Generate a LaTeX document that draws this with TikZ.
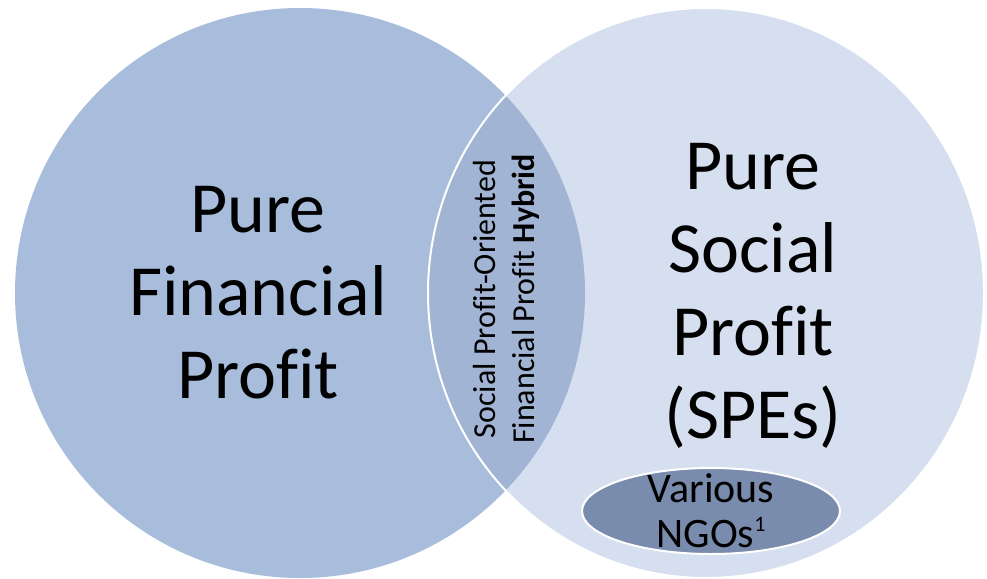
\documentclass[tikz,border=0pt]{standalone}
\usepackage{fontspec}
\setmainfont{Carlito}[Ligatures={NoCommon}]
\definecolor{leftcol}{HTML}{A8BCDB}
\definecolor{rightcol}{HTML}{D6DFEF}
\definecolor{lenscol}{HTML}{A1B4D4}
\definecolor{ngocol}{HTML}{7A8CAD}
\newcommand{\supone}{\raisebox{0.40em}{\fontsize{22}{22}\selectfont 1}}
\tikzset{
  bigtext/.style={align=center, inner sep=0pt, text=black, font=\fontsize{72}{83}\selectfont},
  lenstext/.style={align=center, inner sep=0pt, text=black, rotate=90, font=\fontsize{32}{39}\selectfont},
  ngotext/.style={align=center, inner sep=0pt, text=black, font=\fontsize{42}{45}\selectfont},
}
\begin{document}
\begin{tikzpicture}[x=1pt,y=-1pt]
\useasboundingbox (0,0) rectangle (987,578);
% circles
\fill[leftcol] (300,293) ellipse [x radius=285pt, y radius=285pt];
\fill[rightcol] (706,293) ellipse [x radius=278pt, y radius=285pt];
\begin{scope}
  \clip (706,293) ellipse [x radius=278pt, y radius=285pt];
  \fill[lenscol] (300,293) ellipse [x radius=285pt, y radius=285pt];
\end{scope}
\draw[white, line width=2pt] (706,293) ellipse [x radius=278pt, y radius=285pt];
% NGO ellipse
\filldraw[fill=ngocol, draw=white, line width=2pt] (711,511) ellipse [x radius=129pt, y radius=43pt];
% texts
\node[bigtext] (pfp) at (258,292.5) {Pure\\Financial\\Profit};
\node[bigtext] (psp) at (753,295.5) {Pure\\Social\\Profit\\(SPEs)};
\node[lenstext] (hyb) at (506,299) {Social Profit-Oriented\\Financial Profit \textbf{Hybrid}};
\node[ngotext] (ngo) at (711,511) {Various\\NGOs\supone};
\end{tikzpicture}
\end{document}
